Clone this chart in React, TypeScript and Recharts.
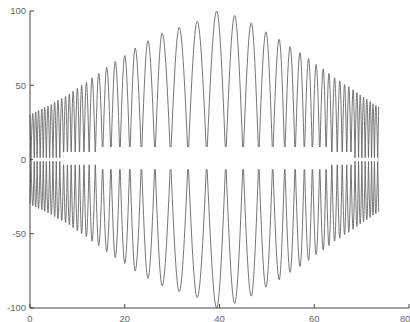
import { LineChart, Line, XAxis, YAxis, ReferenceArea } from "recharts";

// x position of each arch (alternating crest / trough of the wave)
const peakX = [
  0.0, 0.6, 1.2, 1.8, 2.5, 3.1, 3.8, 4.5, 5.2, 5.9, 6.7, 7.5, 8.3, 9.1, 10.0,
  10.9, 11.9, 13.1, 14.5, 16.2, 18.0, 20.0, 22.2, 24.9, 27.9, 31.5, 35.3, 39.4,
  43.2, 46.7, 49.8, 52.6, 54.9, 57.0, 58.8, 60.4, 61.9, 63.1, 64.3, 65.4, 66.4,
  67.3, 68.2, 69.0, 69.7, 70.4, 71.1, 71.8, 72.4, 73.0, 73.6,
];
// height of each arch
const peakAmp = [
  30, 31, 32, 33, 34, 35, 36, 37, 38.5, 40, 41, 42.5, 44, 46, 48,
  50, 52, 55, 58, 62, 66, 70, 75, 80, 85, 89, 93, 100,
  97, 92, 86, 81, 76, 72, 68, 64, 61, 58, 55, 53, 50.5,
  49, 47, 45, 43.5, 42, 40.5, 39, 37.5, 36.5, 35.5,
];
const xTicks = [0, 20, 40, 60, 80];
const yTicks = [-100, -50, 0, 50, 100];

const rows = peakX.map((x, i) => {
  const sign = i % 2 === 0 ? 1 : -1;
  return { x, wave: sign * peakAmp[i], mirror: -sign * peakAmp[i] };
});

const tickStyle = { fontSize: 9.5, fill: "#666", fontFamily: "Liberation Sans, Arial, sans-serif" };
const frame = { stroke: "#444" };

export default function App() {
  return (
    <div style={{ position: "absolute", left: 0, top: 0, background: "#fff" }}>
      <LineChart width={410} height={322} data={rows} margin={{ top: 11, right: 1, bottom: 0, left: 0 }}>
        <XAxis xAxisId="b" dataKey="x" type="number" domain={[0, 80]} ticks={xTicks}
          height={14} tickSize={-4} tickMargin={11} tick={tickStyle}
          axisLine={frame} tickLine={frame} />
        <XAxis xAxisId="t" orientation="top" dataKey="x" type="number" domain={[0, 80]} ticks={xTicks}
          height={0} tickSize={-4} tickFormatter={() => ""}
          axisLine={frame} tickLine={frame} />
        <YAxis yAxisId="l" type="number" domain={[-100, 100]} ticks={yTicks}
          width={30} tickSize={-4} tickMargin={8} tick={tickStyle}
          axisLine={frame} tickLine={frame} />
        <YAxis yAxisId="r" orientation="right" type="number" domain={[-100, 100]} ticks={yTicks}
          width={0} tickSize={-4} tickFormatter={() => ""}
          axisLine={frame} tickLine={frame} />
        <Line xAxisId="b" yAxisId="l" type="monotone" dataKey="wave" stroke="#666"
          strokeWidth={0.9} dot={false} isAnimationActive={false} />
        <Line xAxisId="b" yAxisId="l" type="monotone" dataKey="mirror" stroke="#666"
          strokeWidth={0.9} dot={false} isAnimationActive={false} />
        {/* pale gap along zero */}
        <ReferenceArea xAxisId="b" yAxisId="l" x1={0.6} x2={73.5} y1={-1.2} y2={1.2}
          fill="#fff" fillOpacity={1} stroke="none" zIndex={1000} />
        <ReferenceArea xAxisId="b" yAxisId="l" x1={7} x2={68} y1={-3.5} y2={5}
          fill="#fff" fillOpacity={1} stroke="none" zIndex={1000} />
        <ReferenceArea xAxisId="b" yAxisId="l" x1={14} x2={63} y1={-6.5} y2={8.5}
          fill="#fff" fillOpacity={1} stroke="none" zIndex={1000} />
      </LineChart>
    </div>
  );
}
